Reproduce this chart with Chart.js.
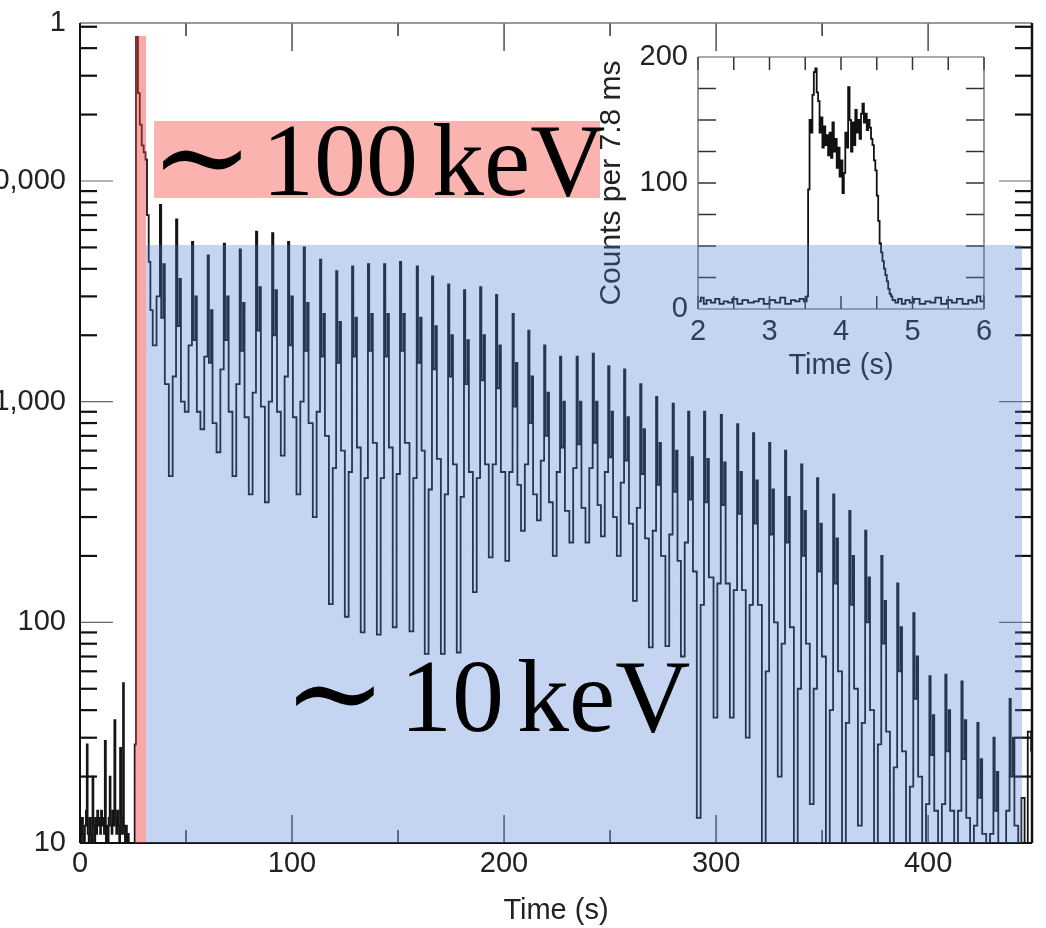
<!DOCTYPE html>
<html>
<head>
<meta charset="utf-8">
<script src="https://cdn.jsdelivr.net/npm/chart.js@4.4.0/dist/chart.umd.min.js"></script>
<style>
  html, body { margin: 0; padding: 0; background: #fff; }
  body { width: 1046px; height: 928px; position: relative; overflow: hidden; }
  #main { position: absolute; left: -40px; top: 0; }
  #inset { position: absolute; left: 590px; top: 40px; }
  #marks { position: absolute; left: 0; top: 0; pointer-events: none; }
</style>
</head>
<body>
<canvas id="main" width="1086" height="928"></canvas>
<canvas id="inset" width="410" height="355"></canvas>
<svg id="marks" width="1046" height="928" xmlns="http://www.w3.org/2000/svg">
  <rect x="135" y="36" width="11" height="807" fill="rgb(245,60,60)" fill-opacity="0.45"/>
  <rect x="146" y="245" width="876" height="598" fill="rgb(70,120,210)" fill-opacity="0.32"/>
  <rect x="154" y="121" width="446" height="77" fill="#fbb3b0"/>
  <text y="195" font-family="Liberation Serif" font-size="104" fill="#000"><tspan x="150" y="199" font-family="DejaVu Serif" font-size="124">∼</tspan><tspan x="262" y="195">100</tspan><tspan x="432">keV</tspan></text>
  <text y="731" font-family="Liberation Serif" font-size="104" fill="#000"><tspan x="283" y="735" font-family="DejaVu Serif" font-size="124">∼</tspan><tspan x="400" y="731">10</tspan><tspan x="517">keV</tspan></text>
</svg>
<script>
// ── DATA ────────────────────────────────────────────
// quiet interval before the flare (s, counts)
const preTimes = [0.0, 0.5, 0.9, 1.4, 1.8, 2.3, 2.8, 3.2, 3.6, 4.1,
  4.5, 5.0, 5.4, 5.9, 6.3, 6.8, 7.2, 7.7, 8.1, 8.6,
  9.0, 9.5, 9.9, 10.4, 10.8, 11.3, 11.7, 12.2, 12.6, 13.1,
  13.5, 14.0, 14.4, 14.9, 15.3, 15.8, 16.2, 16.7, 17.1, 17.6,
  18.0, 18.5, 18.9, 19.4, 19.8, 20.3, 20.7, 21.2, 21.6, 22.1,
  22.5, 23.0, 23.4, 23.9, 24.3, 24.8, 25.3, 25.8];
const preCounts = [12, 9, 13, 11, 8, 12, 14, 28, 11, 9,
  13, 11, 8, 20, 12, 10, 13, 11, 14, 12,
  13, 11, 14, 12, 13, 11, 29, 10, 12, 9,
  13, 20, 12, 11, 14, 12, 36, 13, 11, 14,
  12, 10, 27, 13, 11, 53, 12, 9, 12, 10,
  11, 8, 9, 8, 8, 8, 8, 28];

// initial hard spike
const spikeTimes  = [26.4, 27.3, 28.2, 29.1, 30.0, 30.9, 31.6, 32.4, 33.2];
const spikeCounts = [45000, 25000, 18000, 14500, 13500, 12500, 7000, 4300, 2600];

// pulsating tail, one entry per 7.56 s rotation
const pulseTimes = [37.7, 45.3, 52.8, 60.2, 67.8, 75.3, 83.0, 90.6, 98.1, 105.5,
  113.2, 120.8, 128.3, 135.8, 143.4, 150.9, 158.8, 166.0, 173.6, 181.1,
  188.7, 196.2, 204.0, 211.4, 218.9, 226.4, 234.2, 241.8, 249.1, 256.6,
  264.2, 271.7, 279.5, 286.8, 294.3, 302.2, 309.9, 317.4, 325.0, 332.5,
  340.1, 347.6, 355.2, 362.8, 370.3, 377.9, 385.4, 393.0, 400.6, 408.1,
  415.7, 423.2, 430.8, 438.4];
const pulseTrough = [1800, 460, 900, 750, 590, 460, 380, 350, 570, 380,
  300, 121, 106, 90, 88, 95, 91, 72, 72, 73,
  137, 197, 190, 260, 290, 200, 230, 230, 245, 200,
  125, 77, 78, 70, 13, 37, 37, 30, 8, 20,
  8, 15, 8, 8, 12, 8, 8, 8, 8, 8,
  8, 8, 8, 8];
const pulseRise = [3000, 1300, 1800, 1600, 1400, 1200, 1100, 1000, 1300, 1000,
  900, 500, 480, 450, 450, 470, 450, 400, 380, 370,
  450, 520, 480, 520, 540, 480, 500, 500, 480, 430,
  330, 260, 250, 230, 120, 150, 140, 120, 60, 80,
  50, 50, 40, 35, 35, 28, 22, 18, 15, 15,
  14, 12, 11, 14];
const pulsePeak = [7800, 6700, 5300, 4600, 5200, 4900, 5900, 5800, 5300, 5000,
  4400, 3900, 4100, 4200, 4200, 4300, 4100, 3700, 3400, 3200,
  3300, 3050, 2500, 2100, 1800, 1600, 1600, 1650, 1450, 1400,
  1200, 1050, 980, 900, 900, 870, 790, 720, 650, 600,
  520, 450, 380, 320, 260, 200, 150, 110, 57, 58,
  54, 35, 30, 45];
const pulseDip = [2400, 2200, 1900, 1500, 1900, 1700, 2100, 2000, 1800, 1700,
  1600, 1500, 1600, 1700, 1600, 1700, 1500, 1400, 1300, 1200,
  1250, 1150, 950, 800, 700, 620, 640, 650, 560, 540,
  470, 420, 390, 360, 350, 340, 310, 280, 250, 230,
  200, 170, 150, 120, 100, 80, 60, 45, 25, 26,
  24, 16, 14, 20];
const pulseSecond = [4200, 3600, 3000, 2600, 3000, 2800, 3300, 3200, 3000, 2800,
  2500, 2300, 2400, 2500, 2500, 2500, 2400, 2200, 2000, 1900,
  2000, 1800, 1500, 1300, 1100, 1000, 1000, 1000, 900, 850,
  750, 650, 600, 560, 550, 530, 480, 440, 400, 370,
  320, 280, 240, 200, 160, 125, 95, 70, 38, 40,
  36, 24, 21, 30];
const pulseFall = [1200, 1000, 900, 800, 900, 850, 950, 900, 850, 800,
  700, 600, 620, 650, 620, 650, 600, 550, 520, 480,
  520, 480, 420, 380, 350, 320, 330, 340, 300, 280,
  240, 200, 190, 170, 160, 150, 140, 120, 100, 95,
  80, 70, 60, 50, 40, 32, 26, 20, 14, 14,
  13, 11, 10, 12];

// end of the record
const tailTimes  = [442.5, 444.0, 445.5, 447.0, 448.6];
const tailCounts = [8, 16, 8, 32, 26];

// inset: main spike, counts per 7.8 ms
const insetTimes = [2.00, 2.04, 2.08, 2.12, 2.18, 2.24, 2.30, 2.36, 2.42, 2.48,
  2.55, 2.62, 2.70, 2.78, 2.85, 2.92, 3.00, 3.08, 3.15, 3.22,
  3.30, 3.36, 3.42, 3.48, 3.52, 3.54, 3.56, 3.58, 3.60, 3.62,
  3.64, 3.66, 3.68, 3.70, 3.72, 3.74, 3.76, 3.78, 3.80, 3.82,
  3.84, 3.86, 3.88, 3.90, 3.92, 3.94, 3.96, 3.98, 4.00, 4.02,
  4.04, 4.06, 4.08, 4.10, 4.12, 4.14, 4.16, 4.18, 4.20, 4.22,
  4.24, 4.26, 4.28, 4.30, 4.32, 4.34, 4.36, 4.38, 4.40, 4.42,
  4.44, 4.46, 4.48, 4.50, 4.52, 4.54, 4.56, 4.58, 4.60, 4.62,
  4.64, 4.66, 4.68, 4.70, 4.72, 4.76, 4.80, 4.85, 4.90, 4.96,
  5.02, 5.10, 5.18, 5.25, 5.32, 5.40, 5.48, 5.55, 5.62, 5.70,
  5.78, 5.84, 5.90, 5.95, 6.00];
const insetCounts = [6, 9, 4, 7, 5, 8, 4, 6, 5, 8,
  4, 7, 5, 6, 8, 4, 7, 5, 9, 4,
  7, 6, 8, 6, 10, 95, 150, 140, 170, 188,
  191, 172, 165, 140, 152, 128, 145, 130, 138, 122,
  140, 120, 148, 125, 135, 112, 128, 105, 118, 92,
  108, 140, 128, 176, 150, 125, 148, 130, 158, 140,
  150, 135, 155, 163, 148, 155, 142, 150, 144, 135,
  130, 118, 110, 90, 70, 52, 45, 38, 32, 27,
  22, 16, 12, 10, 7, 5, 8, 4, 7, 5,
  8, 4, 6, 5, 9, 4, 7, 5, 8, 4,
  7, 5, 10, 6, 12];

// axis ticks
const xTicks = [0, 100, 200, 300, 400];
const yTicks = [10, 100, 1000, 10000, 52000];
const yTickText = ['10', '100', '1,000', '10,000', '1'];
const insetXTicks = [2, 3, 4, 5, 6];
const insetYTicks = [0, 100, 200];

// ── BUILD SERIES ────────────────────────────────────
// offsets (s) of each pulse-profile level relative to the pulse peak
const PROFILE = [
  [-3.4, pulseTrough],
  [-1.6, pulseRise],
  [0.0, pulsePeak],
  [0.6, pulseDip],
  [1.6, pulseSecond],
  [2.3, pulseFall]
];

function buildLightCurve() {
  const pts = [];
  preTimes.forEach((t, i) => pts.push({ x: t, y: preCounts[i] }));
  spikeTimes.forEach((t, i) => pts.push({ x: t, y: spikeCounts[i] }));
  pulseTimes.forEach((t, i) => {
    PROFILE.forEach(([dt, arr]) => pts.push({ x: t + dt, y: arr[i] }));
  });
  tailTimes.forEach((t, i) => pts.push({ x: t, y: tailCounts[i] }));
  return pts;
}

const FONT = 'Liberation Sans, Arial, Helvetica, sans-serif';

// keep the plot box exactly where the layout padding puts it
function noLabelOverhang(s) {
  s.paddingTop = 0;
  s.paddingBottom = 0;
  s.paddingLeft = 0;
  s.paddingRight = 0;
}

// ── FRAME + INWARD TICKS ────────────────────────────
const frameTicks = {
  id: 'frameTicks',
  afterDatasetsDraw(chart, args, o) {
    const { ctx, chartArea: a } = chart;
    const xs = chart.scales.x, ys = chart.scales.y;
    const seg = (x1, y1, x2, y2, w, c) => {
      ctx.beginPath();
      ctx.lineWidth = w;
      ctx.strokeStyle = c;
      ctx.moveTo(x1, y1);
      ctx.lineTo(x2, y2);
      ctx.stroke();
    };
    ctx.save();
    o.x.forEach(t => {
      const px = xs.getPixelForValue(t.v);
      seg(px, a.bottom, px, a.bottom - t.len, t.w, t.c);
      seg(px, a.top, px, a.top + t.len, t.w, t.c);
    });
    o.y.forEach(t => {
      const py = ys.getPixelForValue(t.v);
      seg(a.left, py, a.left + t.len, py, t.w, t.c);
      seg(a.right, py, a.right - t.len, py, t.w, t.c);
    });
    const f = o.frame;
    seg(a.left, a.top, a.right, a.top, f.top[0], f.top[1]);
    seg(a.left, a.bottom, a.right, a.bottom, f.bottom[0], f.bottom[1]);
    seg(a.left, a.top, a.left, a.bottom, f.left[0], f.left[1]);
    seg(a.right, a.top, a.right, a.bottom, f.right[0], f.right[1]);
    ctx.restore();
  }
};

// ── MAIN CHART ──────────────────────────────────────
const mainX = [];
[50, 150, 250, 350].forEach(v => mainX.push({ v, len: 13, w: 1.5, c: '#333' }));
[100, 200, 300, 400].forEach(v => mainX.push({ v, len: 28, w: 1.3, c: '#333' }));
const mainY = [];
[10, 100, 1000, 10000].forEach(d => {
  [2, 3, 4, 5, 6, 7, 8, 9].forEach(m => {
    if (d * m < 52000) mainY.push({ v: d * m, len: 17, w: 2.2, c: '#111' });
  });
});
[100, 1000, 10000].forEach(v => mainY.push({ v, len: 33, w: 1.2, c: '#666' }));

new Chart(document.getElementById('main'), {
  type: 'line',
  data: {
    datasets: [{
      data: buildLightCurve(),
      borderColor: '#151515',
      borderWidth: 1.8,
      pointRadius: 0,
      stepped: true,
      fill: false
    }]
  },
  options: {
    responsive: false,
    animation: false,
    layout: { padding: { left: 0, right: 14, top: 23, bottom: 0 } },
    plugins: {
      legend: { display: false },
      tooltip: { enabled: false },
      frameTicks: {
        x: mainX, y: mainY,
        frame: { top: [1.5, '#777'], bottom: [2, '#111'], left: [2, '#111'], right: [2.5, '#111'] }
      }
    },
    scales: {
      x: {
        type: 'linear', min: 0, max: 449,
        grid: { display: false, drawTicks: false },
        border: { display: false },
        afterBuildTicks: s => { s.ticks = xTicks.map(v => ({ value: v })); },
        afterFit: s => { s.height = 85; noLabelOverhang(s); },
        ticks: { padding: 4, autoSkip: false, maxRotation: 0, color: '#222', font: { family: FONT, size: 29 } },
        title: { display: true, text: 'Time (s)', color: '#222', font: { family: FONT, size: 29 }, padding: { top: 0, bottom: 0 } }
      },
      y: {
        type: 'logarithmic', min: 10, max: 52000,
        grid: { display: false, drawTicks: false },
        border: { display: false },
        afterBuildTicks: s => { s.ticks = yTicks.map(v => ({ value: v })); },
        afterFit: s => { s.width = 120; noLabelOverhang(s); },
        ticks: {
          padding: 14, autoSkip: false, color: '#222', font: { family: FONT, size: 29 },
          callback: (v, i) => yTickText[i]
        }
      }
    }
  },
  plugins: [frameTicks]
});

// ── INSET ───────────────────────────────────────────
const insetX = [];
[2, 2.5, 3, 3.5, 4, 4.5, 5, 5.5, 6].forEach(v => insetX.push({ v, len: 13, w: 1.5, c: '#333' }));
const insetY = [];
[25, 50, 75, 100, 125, 150, 175].forEach(v => insetY.push({ v, len: 18, w: 1.5, c: '#333' }));

new Chart(document.getElementById('inset'), {
  type: 'line',
  data: {
    datasets: [{
      data: insetTimes.map((t, i) => ({ x: t, y: insetCounts[i] })),
      borderColor: '#111',
      borderWidth: 1.8,
      pointRadius: 0,
      stepped: true,
      fill: false
    }]
  },
  options: {
    responsive: false,
    animation: false,
    layout: { padding: { left: 0, right: 16, top: 17, bottom: 0 } },
    plugins: {
      legend: { display: false },
      tooltip: { enabled: false },
      frameTicks: {
        x: insetX, y: insetY,
        frame: { top: [1.2, '#555'], bottom: [1.2, '#555'], left: [1.2, '#555'], right: [1.2, '#555'] }
      }
    },
    scales: {
      x: {
        type: 'linear', min: 2, max: 6,
        grid: { display: false, drawTicks: false },
        border: { display: false },
        afterBuildTicks: s => { s.ticks = insetXTicks.map(v => ({ value: v })); },
        afterFit: s => { s.height = 86; noLabelOverhang(s); },
        ticks: { padding: 6, autoSkip: false, maxRotation: 0, color: '#222', font: { family: FONT, size: 29 } },
        title: { display: true, text: 'Time (s)', color: '#222', font: { family: FONT, size: 29 }, padding: { top: 0, bottom: 12 } }
      },
      y: {
        type: 'linear', min: 0, max: 200,
        grid: { display: false, drawTicks: false },
        border: { display: false },
        afterBuildTicks: s => { s.ticks = insetYTicks.map(v => ({ value: v })); },
        afterFit: s => { s.width = 108; noLabelOverhang(s); },
        ticks: { padding: 10, autoSkip: false, color: '#222', font: { family: FONT, size: 29 } },
        title: { display: true, text: 'Counts per 7.8 ms', color: '#222', font: { family: FONT, size: 30 }, padding: { top: 4, bottom: 0 } }
      }
    }
  },
  plugins: [frameTicks]
});
</script>
</body>
</html>
